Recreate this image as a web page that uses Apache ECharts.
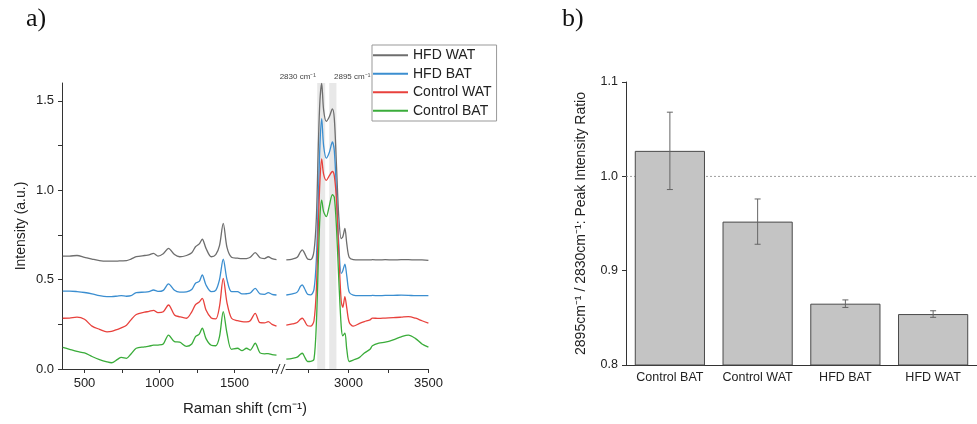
<!DOCTYPE html>
<html><head><meta charset="utf-8">
<script src="https://cdn.jsdelivr.net/npm/echarts@6/dist/echarts.min.js"></script>
<style>html,body{margin:0;padding:0;background:#fff}#c{width:977px;height:424px}</style>
</head><body><div id="c"></div>
<script>
// ---------- Panel a: Raman spectra ----------
const xLeft = [355, 400, 450, 500, 550, 600, 650, 680, 720, 745, 780, 810, 845, 900, 930, 960, 990, 1025, 1060, 1100, 1135, 1180, 1215, 1240, 1265, 1285, 1310, 1345, 1375, 1400, 1425, 1450, 1480, 1520, 1550, 1580, 1605, 1638, 1670, 1700, 1725, 1750, 1780];
const hfdWatLeft = [0.632, 0.632, 0.635, 0.625, 0.615, 0.606, 0.603, 0.603, 0.604, 0.605, 0.606, 0.615, 0.628, 0.635, 0.638, 0.647, 0.632, 0.645, 0.675, 0.64, 0.628, 0.635, 0.65, 0.684, 0.70, 0.726, 0.675, 0.628, 0.64, 0.69, 0.815, 0.68, 0.625, 0.62, 0.617, 0.618, 0.625, 0.651, 0.622, 0.618, 0.628, 0.617, 0.612];
const hfdBatLeft = [0.436, 0.436, 0.433, 0.428, 0.42, 0.41, 0.405, 0.405, 0.408, 0.41, 0.407, 0.41, 0.427, 0.43, 0.433, 0.442, 0.434, 0.44, 0.476, 0.44, 0.43, 0.432, 0.445, 0.48, 0.49, 0.526, 0.47, 0.433, 0.44, 0.5, 0.614, 0.5, 0.433, 0.433, 0.42, 0.421, 0.425, 0.451, 0.42, 0.418, 0.427, 0.418, 0.414];
const ctrlWatLeft = [0.284, 0.285, 0.29, 0.278, 0.24, 0.222, 0.208, 0.21, 0.222, 0.23, 0.245, 0.275, 0.305, 0.318, 0.322, 0.328, 0.315, 0.32, 0.358, 0.302, 0.292, 0.284, 0.32, 0.36, 0.375, 0.395, 0.33, 0.285, 0.28, 0.35, 0.507, 0.37, 0.284, 0.27, 0.265, 0.264, 0.27, 0.311, 0.259, 0.258, 0.265, 0.25, 0.24];
const ctrlBatLeft = [0.121, 0.11, 0.098, 0.09, 0.07, 0.053, 0.04, 0.035, 0.054, 0.065, 0.06, 0.084, 0.116, 0.124, 0.128, 0.133, 0.134, 0.14, 0.19, 0.153, 0.15, 0.127, 0.14, 0.181, 0.195, 0.228, 0.17, 0.133, 0.13, 0.181, 0.321, 0.2, 0.11, 0.116, 0.103, 0.116, 0.106, 0.144, 0.09, 0.085, 0.086, 0.08, 0.078];

const xRight = [2612, 2650, 2680, 2700, 2712, 2725, 2745, 2765, 2785, 2800, 2812, 2822, 2833, 2845, 2862, 2880, 2900, 2912, 2925, 2940, 2955, 2965, 2978, 2990, 3005, 3030, 3070, 3100, 3135, 3150, 3190, 3230, 3280, 3330, 3375, 3420, 3460, 3500];
const hfdWatRight = [0.61, 0.615, 0.625, 0.655, 0.666, 0.65, 0.615, 0.612, 0.66, 0.85, 1.25, 1.5, 1.598, 1.45, 1.385, 1.41, 1.455, 1.40, 1.15, 0.85, 0.73, 0.74, 0.787, 0.70, 0.625, 0.612, 0.61, 0.61, 0.61, 0.612, 0.61, 0.612, 0.61, 0.612, 0.612, 0.61, 0.61, 0.608];
const hfdBatRight = [0.414, 0.42, 0.43, 0.462, 0.47, 0.452, 0.418, 0.415, 0.445, 0.62, 0.95, 1.25, 1.40, 1.25, 1.18, 1.21, 1.27, 1.22, 1.0, 0.70, 0.535, 0.55, 0.587, 0.52, 0.43, 0.413, 0.41, 0.41, 0.41, 0.412, 0.41, 0.412, 0.412, 0.413, 0.412, 0.41, 0.41, 0.41];
const ctrlWatRight = [0.246, 0.252, 0.26, 0.278, 0.284, 0.27, 0.242, 0.24, 0.27, 0.45, 0.8, 1.05, 1.175, 1.09, 1.055, 1.08, 1.105, 1.08, 0.95, 0.65, 0.38, 0.345, 0.405, 0.34, 0.262, 0.24, 0.255, 0.265, 0.275, 0.285, 0.283, 0.285, 0.287, 0.29, 0.293, 0.284, 0.27, 0.257];
const ctrlBatRight = [0.055, 0.06, 0.066, 0.082, 0.088, 0.07, 0.042, 0.043, 0.055, 0.26, 0.6, 0.85, 0.945, 0.88, 0.852, 0.91, 0.975, 0.96, 0.8, 0.5, 0.24, 0.185, 0.2, 0.11, 0.042, 0.05, 0.065, 0.09, 0.11, 0.13, 0.145, 0.15, 0.163, 0.18, 0.19, 0.17, 0.14, 0.122];

const spectraNames = ['HFD WAT', 'HFD BAT', 'Control WAT', 'Control BAT'];
const spectraColors = ['#6e6e6e', '#3b8ed0', '#e8413c', '#3aac3a'];
const legendLineHeights = [1.2, 2, 2, 2];
const leftSets = [hfdWatLeft, hfdBatLeft, ctrlWatLeft, ctrlBatLeft];
const rightSets = [hfdWatRight, hfdBatRight, ctrlWatRight, ctrlBatRight];
const bandRanges = [[2805, 2855], [2880, 2925]];
const bandLabels = ['2830 cm\u207B\u00B9', '2895 cm\u207B\u00B9'];

const yTicksA = [0, 0.25, 0.5, 0.75, 1.0, 1.25, 1.5];
const yLabelsA = [0, 0.5, 1.0, 1.5];
const xTicksLeft = [500, 750, 1000, 1250, 1500, 1750];
const xLabelsLeft = [500, 1000, 1500];
const xTicksRight = [2750, 3000, 3250, 3500];
const xLabelsRight = [3000, 3500];

// ---------- Panel b: peak intensity ratio ----------
const ratioCats = ['Control BAT', 'Control WAT', 'HFD BAT', 'HFD WAT'];
const ratioMeans = [1.027, 0.952, 0.865, 0.854];
const ratioErrs = [0.041, 0.024, 0.004, 0.0035];
const ratioRef = 1.0;

const FONT = 'Liberation Sans, Arial, sans-serif';
const chart = echarts.init(document.getElementById('c'));

const series = [];
spectraNames.forEach((n, i) => {
  series.push({
    name: n, type: 'line', xAxisIndex: 0, yAxisIndex: 0, symbol: 'none', smooth: 0.3,
    lineStyle: {width: 1.3, color: spectraColors[i]}, itemStyle: {color: spectraColors[i]},
    data: xLeft.map((x, k) => [x, leftSets[i][k]]), z: 3
  });
});
spectraNames.forEach((n, i) => {
  const s = {
    name: n, type: 'line', xAxisIndex: 1, yAxisIndex: 1, symbol: 'none', smooth: 0.3,
    lineStyle: {width: 1.3, color: spectraColors[i]}, itemStyle: {color: spectraColors[i]},
    data: xRight.map((x, k) => [x, rightSets[i][k]]), z: 3
  };
  if (i === 0) {
    s.markArea = {
      silent: true, itemStyle: {color: 'rgba(200,200,200,0.42)'},
      data: bandRanges.map(r => [{xAxis: r[0]}, {xAxis: r[1]}])
    };
  }
  series.push(s);
});
// reference line (behind bars)
series.push({
  type: 'custom', xAxisIndex: 2, yAxisIndex: 2, z: 1, silent: true,
  data: [[0, ratioRef]],
  renderItem: (params, api) => {
    const y = api.coord([0, api.value(1)])[1];
    const cs = params.coordSys;
    return {type: 'line', shape: {x1: cs.x, y1: y, x2: cs.x + cs.width, y2: y},
      style: {stroke: '#888', lineWidth: 0.8, lineDash: [2, 2]}};
  }
});
series.push({
  type: 'bar', xAxisIndex: 2, yAxisIndex: 2, barWidth: '80%', z: 5,
  itemStyle: {color: '#c4c4c4', borderColor: '#4a4a4a', borderWidth: 1},
  data: ratioMeans
});
series.push({
  type: 'custom', xAxisIndex: 2, yAxisIndex: 2, z: 6, silent: true,
  data: ratioMeans.map((m, i) => [i, m, ratioErrs[i]]),
  renderItem: (params, api) => {
    const i = api.value(0), m = api.value(1), e = api.value(2);
    const top = api.coord([i, m + e]);
    const bot = api.coord([i, m - e]);
    const w = 3;
    const st = {stroke: '#666', lineWidth: 1};
    return {type: 'group', children: [
      {type: 'line', shape: {x1: top[0], y1: top[1], x2: bot[0], y2: bot[1]}, style: st},
      {type: 'line', shape: {x1: top[0] - w, y1: top[1], x2: top[0] + w, y2: top[1]}, style: st},
      {type: 'line', shape: {x1: bot[0] - w, y1: bot[1], x2: bot[0] + w, y2: bot[1]}, style: st}
    ]};
  }
});

const axisLineStyle = {color: '#333', width: 1};
const option = {
  animation: false,
  backgroundColor: '#fff',
  textStyle: {fontFamily: FONT},
  grid: [
    {left: 62, top: 83, width: 216, height: 286},
    {left: 286, top: 83, width: 142.4, height: 286},
    {left: 626, top: 82, width: 352, height: 283}
  ],
  xAxis: [
    {type: 'value', gridIndex: 0, min: 350, max: 1790, splitLine: {show: false},
      axisLine: {show: true, onZero: false, lineStyle: axisLineStyle},
      axisTick: {show: true, customValues: xTicksLeft, length: 4, lineStyle: axisLineStyle},
      axisLabel: {customValues: xLabelsLeft, formatter: v => String(v), fontSize: 13, color: '#222', margin: 8, fontFamily: FONT}},
    {type: 'value', gridIndex: 1, min: 2610, max: 3500, splitLine: {show: false},
      axisLine: {show: true, onZero: false, lineStyle: axisLineStyle},
      axisTick: {show: true, customValues: xTicksRight, length: 4, lineStyle: axisLineStyle},
      axisLabel: {customValues: xLabelsRight, formatter: v => String(v), fontSize: 13, color: '#222', margin: 8, fontFamily: FONT}},
    {type: 'category', gridIndex: 2, data: ratioCats,
      axisLine: {show: true, lineStyle: axisLineStyle}, axisTick: {show: false},
      axisLabel: {interval: 0, fontSize: 12.5, color: '#222', margin: 6, fontFamily: FONT}}
  ],
  yAxis: [
    {type: 'value', gridIndex: 0, min: 0, max: 1.6, splitLine: {show: false},
      axisLine: {show: true, lineStyle: axisLineStyle},
      axisTick: {show: true, customValues: yTicksA, length: 4, lineStyle: axisLineStyle},
      axisLabel: {customValues: yLabelsA, formatter: v => v.toFixed(1), fontSize: 13, color: '#222', margin: 8, fontFamily: FONT},
      name: 'Intensity (a.u.)', nameLocation: 'middle', nameGap: 34,
      nameTextStyle: {fontSize: 14, color: '#222', fontFamily: FONT}},
    {type: 'value', gridIndex: 1, min: 0, max: 1.6, show: false},
    {type: 'value', gridIndex: 2, min: 0.8, max: 1.1, interval: 0.1, splitLine: {show: false},
      axisLine: {show: true, lineStyle: axisLineStyle},
      axisTick: {show: true, length: 4, lineStyle: axisLineStyle},
      axisLabel: {formatter: v => v.toFixed(1), fontSize: 12.5, color: '#222', margin: 8, fontFamily: FONT},
      name: '2895cm\u207B\u00B9 / 2830cm\u207B\u00B9: Peak Intensity Ratio', nameLocation: 'middle', nameGap: 38,
      nameTextStyle: {fontSize: 14, color: '#222', fontFamily: FONT}}
  ],
  legend: {
    data: spectraNames.map((n, i) => ({name: n, icon: 'rect', itemHeight: legendLineHeights[i]})),
    orient: 'vertical', left: 372, top: 45,
    itemWidth: 35, itemHeight: 2, itemGap: 4, padding: [3, 5, 3, 1],
    borderColor: '#999', borderWidth: 1, backgroundColor: '#fff',
    textStyle: {fontSize: 14, lineHeight: 14.5, color: '#222', fontFamily: FONT}
  },
  graphic: [
    {type: 'text', left: 26, top: 6, style: {text: 'a)', fontSize: 26, fontFamily: 'Liberation Serif, Times New Roman, serif', fill: '#111'}},
    {type: 'text', left: 562, top: 6, style: {text: 'b)', fontSize: 26, fontFamily: 'Liberation Serif, Times New Roman, serif', fill: '#111'}},
    {type: 'text', x: 245, y: 409, style: {text: 'Raman shift (cm\u207B\u00B9)', fontSize: 15, fontFamily: FONT, fill: '#222', align: 'center', verticalAlign: 'middle'}},
    {type: 'text', x: 316, y: 77, style: {text: bandLabels[0], fontSize: 8, fontFamily: FONT, fill: '#444', align: 'right', verticalAlign: 'middle'}},
    {type: 'text', x: 334, y: 77, style: {text: bandLabels[1], fontSize: 8, fontFamily: FONT, fill: '#444', align: 'left', verticalAlign: 'middle'}},
    {type: 'rect', shape: {x: 278.5, y: 364, width: 7, height: 10}, style: {fill: '#fff'}},
    {type: 'line', shape: {x1: 276, y1: 374, x2: 280, y2: 364}, style: {stroke: '#333', lineWidth: 1}},
    {type: 'line', shape: {x1: 281, y1: 374, x2: 285, y2: 364}, style: {stroke: '#333', lineWidth: 1}}
  ],
  series: series
};
chart.setOption(option);
</script>
</body></html>
